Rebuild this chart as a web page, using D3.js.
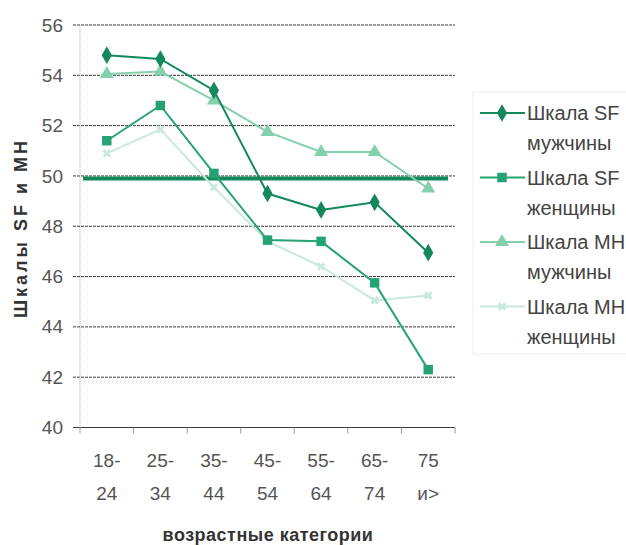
<!DOCTYPE html>
<html>
<head>
<meta charset="utf-8">
<script src="https://cdn.jsdelivr.net/npm/d3@7"></script>
<style>
  body { margin: 0; background: #fff; }
  svg { display: block; font-family: 'Liberation Sans', Arial, sans-serif; }
</style>
</head>
<body>
<div id="chart"></div>
<script>
var categories = ['18-24', '25-34', '35-44', '45-54', '55-64', '65-74', '75 и>']
var catTop = ['18-', '25-', '35-', '45-', '55-', '65-', '75']
var catBottom = ['24', '34', '44', '54', '64', '74', 'и>']

var sfMen = [54.8, 54.65, 53.4, 49.3, 48.65, 48.95, 46.95]
var sfWomen = [51.4, 52.8, 50.1, 47.45, 47.4, 45.75, 42.3]
var mhMen = [54.05, 54.15, 53.0, 51.75, 50.95, 50.95, 49.5]
var mhWomen = [50.9, 51.85, 49.55, 47.4, 46.4, 45.05, 45.25]
var refValue = 49.9
var yTicks = [40, 42, 44, 46, 48, 50, 52, 54, 56]

var seriesNames = [['Шкала SF', 'мужчины'], ['Шкала SF', 'женщины'], ['Шкала MH', 'мужчины'], ['Шкала MH', 'женщины']]
var seriesColors = ['#13885a', '#27a273', '#84d0ad', '#c9eadb']
var seriesSymbols = [d3.symbolDiamond, d3.symbolSquare, d3.symbolTriangle, d3.symbolCross]
var seriesSizes = [90, 90, 85, 45]

var series = [sfMen, sfWomen, mhMen, mhWomen]

var width = 626
var height = 545
var plotLeft = 80
var plotRight = 455
var plotTop = 25
var plotBottom = 427.5

var svg = d3.select('#chart').append('svg')
  .attr('width', width)
  .attr('height', height)

var x = d3.scaleBand()
  .domain(categories)
  .range([plotLeft, plotRight])
  .padding(0)

var y = d3.scaleLinear()
  .domain([40, 56])
  .range([plotBottom, plotTop])

// gridlines
svg.append('g')
  .selectAll('line')
  .data(yTicks)
  .join('line')
  .attr('x1', plotLeft - 7)
  .attr('x2', plotRight)
  .attr('y1', d => y(d))
  .attr('y2', d => y(d))
  .attr('stroke', '#3a3a3a')
  .attr('stroke-width', 1)
  .attr('stroke-dasharray', d => d === 40 ? null : '3,1')

// left axis line
svg.append('line')
  .attr('x1', plotLeft).attr('x2', plotLeft)
  .attr('y1', plotTop).attr('y2', plotBottom)
  .attr('stroke', '#aaa')
  .attr('stroke-dasharray', '1,1')

// y tick labels
var yAxis = d3.axisLeft(y).tickValues(yTicks).tickSize(0).tickPadding(0)
var yg = svg.append('g')
  .attr('transform', 'translate(' + (plotLeft - 17) + ',0)')
  .call(yAxis)
yg.select('.domain').remove()
yg.selectAll('text')
  .attr('font-size', 19)
  .attr('font-family', 'Liberation Sans, Arial, sans-serif')
  .attr('fill', '#555')

// x axis ticks at band boundaries
var bounds = categories.map(c => x(c)).concat([plotRight])
svg.append('g')
  .selectAll('line')
  .data(bounds)
  .join('line')
  .attr('x1', d => d).attr('x2', d => d)
  .attr('y1', plotBottom).attr('y2', plotBottom + 6)
  .attr('stroke', '#999')

// x labels
var xl = svg.append('g')
  .selectAll('g')
  .data(categories)
  .join('g')
  .attr('transform', d => 'translate(' + (x(d) + x.bandwidth() / 2) + ',0)')
xl.append('text')
  .attr('y', 467)
  .attr('text-anchor', 'middle')
  .attr('font-size', 19)
  .attr('fill', '#555')
  .text((d, i) => catTop[i])
xl.append('text')
  .attr('y', 500)
  .attr('text-anchor', 'middle')
  .attr('font-size', 19)
  .attr('fill', '#555')
  .text((d, i) => catBottom[i])

// axis titles
svg.append('text')
  .attr('x', 268)
  .attr('y', 541)
  .attr('text-anchor', 'middle')
  .attr('font-size', 18)
  .attr('font-weight', 'bold')
  .attr('letter-spacing', 0.5)
  .attr('fill', '#333')
  .text('возрастные категории')

svg.append('text')
  .attr('transform', 'translate(27,228) rotate(-90)')
  .attr('text-anchor', 'middle')
  .attr('font-size', 18)
  .attr('font-weight', 'bold')
  .attr('fill', '#333')
  .attr('letter-spacing', 3)
  .text('Шкалы SF и MH')

// reference line
svg.append('line')
  .attr('x1', plotLeft + 3).attr('x2', plotRight - 7)
  .attr('y1', y(refValue)).attr('y2', y(refValue))
  .attr('stroke', '#13885a')
  .attr('stroke-width', 4)

var line = d3.line()
  .x((d, i) => x(categories[i]) + x.bandwidth() / 2)
  .y(d => y(d))

// draw lightest series first
for (var s = series.length - 1; s >= 0; s--) {
  var g = svg.append('g')
  g.append('path')
    .datum(series[s])
    .attr('d', line)
    .attr('fill', 'none')
    .attr('stroke', seriesColors[s])
    .attr('stroke-width', 2)
  g.selectAll('path.m')
    .data(series[s])
    .join('path')
    .attr('class', 'm')
    .attr('transform', (d, i) => 'translate(' + (x(categories[i]) + x.bandwidth() / 2) + ',' + y(d) + ')' + (s === 3 ? ' rotate(45)' : ''))
    .attr('d', d3.symbol().type(seriesSymbols[s]).size(seriesSizes[s]))
    .attr('fill', seriesColors[s])
}

// legend
var legend = svg.append('g')
legend.append('rect')
  .attr('x', 473).attr('y', 92)
  .attr('width', 170).attr('height', 262)
  .attr('fill', 'none')
  .attr('stroke', '#f0f0f0')

var items = legend.selectAll('g')
  .data(seriesNames)
  .join('g')
  .attr('transform', (d, i) => 'translate(0,' + (113 + i * 64.5) + ')')
items.append('line')
  .attr('x1', 480).attr('x2', 525)
  .attr('stroke', (d, i) => seriesColors[i])
  .attr('stroke-width', 2)
items.append('path')
  .attr('transform', (d, i) => 'translate(502,0)' + (i === 3 ? ' rotate(45)' : ''))
  .attr('d', (d, i) => d3.symbol().type(seriesSymbols[i]).size(seriesSizes[i])())
  .attr('fill', (d, i) => seriesColors[i])
items.append('text')
  .attr('x', 527).attr('y', 7)
  .attr('font-size', 20)
  .attr('fill', '#444')
  .text(d => d[0])
items.append('text')
  .attr('x', 527).attr('y', 37)
  .attr('font-size', 20)
  .attr('fill', '#444')
  .text(d => d[1])
</script>
</body>
</html>
